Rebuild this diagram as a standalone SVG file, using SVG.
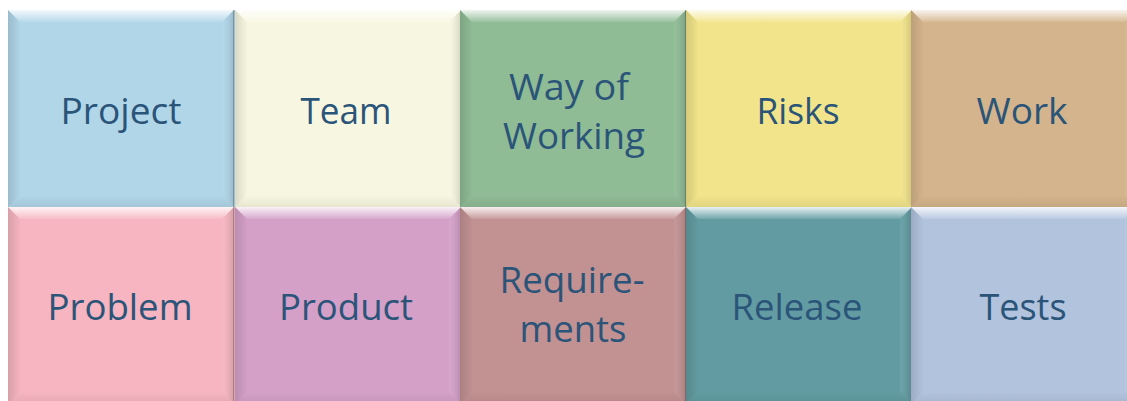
<svg xmlns="http://www.w3.org/2000/svg" width="1127" height="401" viewBox="0 0 1127 401">
<defs>
<linearGradient id="topB" x1="0" y1="0" x2="0" y2="1"><stop offset="0" stop-color="#fff" stop-opacity="0.85"/><stop offset="1" stop-color="#fff" stop-opacity="0.1"/></linearGradient>
<linearGradient id="leftB" x1="0" y1="0" x2="1" y2="0"><stop offset="0" stop-color="#000" stop-opacity="0.12"/><stop offset="1" stop-color="#000" stop-opacity="0.01"/></linearGradient>
<linearGradient id="rightB" x1="1" y1="0" x2="0" y2="0"><stop offset="0" stop-color="#000" stop-opacity="0.14"/><stop offset="1" stop-color="#fff" stop-opacity="0.06"/></linearGradient>
<linearGradient id="botB" x1="0" y1="1" x2="0" y2="0"><stop offset="0" stop-color="#000" stop-opacity="0.07"/><stop offset="1" stop-color="#000" stop-opacity="0"/></linearGradient>
<g id="bevel">
<polygon points="0,0 226,0 214,12 12,12" fill="url(#topB)"/>
<polygon points="0,0 12,12 12,185 0,197" fill="url(#leftB)"/>
<polygon points="226,0 226,197 214,185 214,12" fill="url(#rightB)"/>
<polygon points="0,197 12,185 214,185 226,197" fill="url(#botB)"/>
<rect x="225" y="0" width="1.5" height="197" fill="#000" opacity="0.2"/>
</g>
</defs>
<style>
text{font-family:"Open Sans","Noto Sans",sans-serif;font-size:36px;fill:#2b5479;text-anchor:middle}
</style>
<rect width="1127" height="401" fill="#fff"/>
<g id="project"><rect x="8" y="10" width="227" height="197" fill="#b0d6e8"/><use href="#bevel" x="8" y="10"/><text x="121" y="124" textLength="121" lengthAdjust="spacingAndGlyphs">Project</text></g>
<g id="team"><rect x="235" y="10" width="225" height="197" fill="#f7f7e1"/><use href="#bevel" x="235" y="10"/><text x="346" y="124" textLength="91" lengthAdjust="spacingAndGlyphs">Team</text></g>
<g id="way-of-working"><rect x="460" y="10" width="226" height="197" fill="#8fbb95"/><use href="#bevel" x="460" y="10"/><text x="569" y="100" textLength="120" lengthAdjust="spacingAndGlyphs">Way of</text><text x="574" y="149" textLength="142" lengthAdjust="spacingAndGlyphs">Working</text></g>
<g id="risks"><rect x="686" y="10" width="225" height="197" fill="#f2e48a"/><use href="#bevel" x="686" y="10"/><text x="798" y="124" textLength="83" lengthAdjust="spacingAndGlyphs">Risks</text></g>
<g id="work"><rect x="911" y="10" width="216" height="197" fill="#d4b48c"/><use href="#bevel" x="911" y="10"/><text x="1022" y="124" textLength="91" lengthAdjust="spacingAndGlyphs">Work</text></g>
<g id="problem"><rect x="8" y="207" width="227" height="197" fill="#f6b5c0"/><use href="#bevel" x="8" y="207"/><text x="120" y="320" textLength="145" lengthAdjust="spacingAndGlyphs">Problem</text></g>
<g id="product"><rect x="235" y="207" width="225" height="197" fill="#d4a0c8"/><use href="#bevel" x="235" y="207"/><text x="346" y="320" textLength="134" lengthAdjust="spacingAndGlyphs">Product</text></g>
<g id="requirements"><rect x="460" y="207" width="226" height="197" fill="#c29192"/><use href="#bevel" x="460" y="207"/><text x="572" y="293" textLength="145" lengthAdjust="spacingAndGlyphs">Require-</text><text x="573" y="342" textLength="107" lengthAdjust="spacingAndGlyphs">ments</text></g>
<g id="release"><rect x="686" y="207" width="225" height="197" fill="#629ca2"/><use href="#bevel" x="686" y="207"/><text x="797" y="320" textLength="131" lengthAdjust="spacingAndGlyphs">Release</text></g>
<g id="tests"><rect x="911" y="207" width="216" height="197" fill="#b2c3de"/><use href="#bevel" x="911" y="207"/><text x="1023" y="320" textLength="87" lengthAdjust="spacingAndGlyphs">Tests</text></g>
<g id="connectors"/>
</svg>
